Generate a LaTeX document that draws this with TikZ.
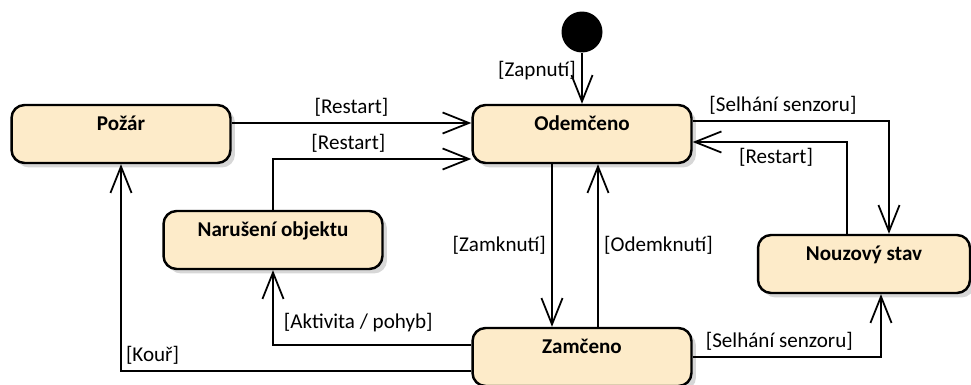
\documentclass[tikz,border=0pt]{standalone}
\usepackage{fontspec}
\setmainfont{Carlito}
\usetikzlibrary{arrows.meta, shadows}
\definecolor{stateFill}{RGB}{253, 235, 201}
\definecolor{stateShadow}{RGB}{205, 205, 205}

\begin{document}
\begin{tikzpicture}[x=0.02cm, y=-0.02cm,
    state/.style={draw=black, line width=1.4pt, fill=stateFill, rounded corners=0.26cm,
      minimum width=4.38cm, minimum height=1.16cm, inner sep=0pt,
      text height=9pt, text depth=13.4pt, font=\fontsize{12}{14}\selectfont\bfseries,
      drop shadow={shadow xshift=0.09cm, shadow yshift=-0.09cm, fill=stateShadow, opacity=0.8}},
    startdot/.style={circle, fill=black, minimum size=0.82cm, inner sep=0pt},
    trans/.style={line width=1pt, -{Straight Barb[length=15pt, width=12pt, line width=1pt]}},
    lbl/.style={font=\fontsize{12}{14}\selectfont, inner sep=3pt}]
  \useasboundingbox (0,0) rectangle (971,385);

  % States
  \node[startdot] (start) at (582,32) {};
  \node[state] (pozar) at (121,134) {Požár};
  \node[state] (odemceno) at (582,134) {Odemčeno};
  \node[state] (naruseni) at (273,240) {Narušení objektu};
  \node[state] (zamceno) at (582,357) {Zamčeno};
  \node[state, minimum width=4.24cm] (nouzovy) at (864,264) {Nouzový stav};

  % Initial transition
  \draw[trans] (start) -- (odemceno) node[lbl, pos=0.35, left] {[Zapnutí]};

  % Transitions into Odemceno
  \draw[trans] ([yshift=0.22cm]pozar.east) -- ([yshift=0.22cm]odemceno.west)
    node[lbl, midway, above] {[Restart]};
  \draw[trans] (naruseni.north) |- ([yshift=-0.5cm]odemceno.west)
    node[lbl, pos=0.69, above] {[Restart]};
  \draw[trans] ([xshift=-0.34cm]nouzovy.north) |- ([yshift=-0.16cm]odemceno.east)
    node[lbl, pos=0.73, below] {[Restart]};

  % Locking and unlocking
  \draw[trans] ([xshift=-0.6cm]odemceno.south) -- ([xshift=-0.6cm]zamceno.north)
    node[lbl, midway, left] {[Zamknutí]};
  \draw[trans] ([xshift=0.32cm]zamceno.north) -- ([xshift=0.32cm]odemceno.south)
    node[lbl, midway, right] {[Odemknutí]};

  % Sensor failure
  \draw[trans] ([yshift=0.26cm]odemceno.east) -| ([xshift=0.5cm]nouzovy.north)
    node[lbl, pos=0.23, above] {[Selhání senzoru]};
  \draw[trans] (zamceno.east) -| ([xshift=0.34cm]nouzovy.south)
    node[lbl, pos=0.23, above] {[Selhání senzoru]};

  % Alarms from Zamceno
  \draw[trans] ([yshift=0.24cm]zamceno.west) -| (naruseni.south)
    node[lbl, pos=0.285, above=4pt] {[Aktivita / pohyb]};
  \draw[trans] ([yshift=-0.28cm]zamceno.west) -| (pozar.south)
    node[lbl, pos=0.455, above] {[Kouř]};
\end{tikzpicture}
\end{document}
